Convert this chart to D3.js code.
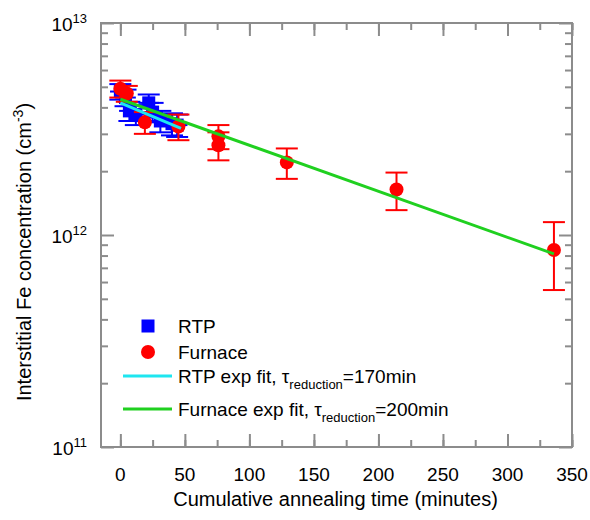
<!DOCTYPE html>
<html>
<head>
<meta charset="utf-8">
<script src="https://cdn.jsdelivr.net/npm/d3@7"></script>
<style>
  body { margin: 0; background: #fff; }
  svg { font-family: Arial, "Liberation Sans", sans-serif; }
</style>
</head>
<body>
<script>
// chart values

// furnace anneal (red circles), time in minutes, Fe in cm^-3
var furnaceTime = [0, 5, 19, 45, 76, 76, 129, 214, 336];
var furnaceFe   = [4.9e12, 4.65e12, 3.4e12, 3.25e12, 2.92e12, 2.65e12, 2.2e12, 1.64e12, 0.85e12];
var furnaceErr  = [0.45e12, 0.4e12, 0.4e12, 0.45e12, 0.38e12, 0.4e12, 0.36e12, 0.33e12, 0.3e12];

// RTP anneal (blue squares)
var rtpTime    = [0, 4, 7, 12, 22, 25, 31, 40, 44];
var rtpFe      = [4.75e12, 4.45e12, 3.85e12, 3.7e12, 4.2e12, 3.8e12, 3.45e12, 3.35e12, 3.3e12];
var rtpErr     = [0.4e12, 0.4e12, 0.4e12, 0.4e12, 0.4e12, 0.4e12, 0.4e12, 0.4e12, 0.4e12];
var rtpTimeErr = [8, 8, 8, 8, 8, 8, 8, 8, 8];

// exponential fits: N(t) = N0 * exp(-t / tau)
var fitNames = ["RTP exp fit, ", "Furnace exp fit, "];
var fitTau   = [170, 200];
var fitN0    = [4.2e12, 4.37e12];
var fitRange = [[0, 47], [0, 336]];

var xTicks = [0, 50, 100, 150, 200, 250, 300, 350];
var xMinor = d3.range(0, 351, 25);
var yDecades = [11, 12, 13];

function draw() {

	var width = 590;
	var height = 520;
	var left = 101, right = 572, top = 23, bottom = 447;
	var gray = "#8c8c8c";

	var xScale = d3.scaleLinear()
				.domain([-15, 350])
				.range([left, right]);

	var yScale = d3.scaleLog()
				.domain([1e11, 1e13])
				.range([bottom, top]);

	var svg = d3.select("body")
				.append("svg")
					.attr("width", width)
					.attr("height", height);

	// minor ticks for the log axis
	var yMinor = [];
	[11, 12].forEach(function(p) {
		for (var k = 2; k <= 9; k++) yMinor.push(k * Math.pow(10, p));
	});
	var yMajor = yDecades.map(p => Math.pow(10, p));

	// tick marks, all pointing inward
	svg.append("g")
		.attr("transform", "translate(0," + bottom + ")")
		.call(d3.axisBottom(xScale).tickValues(xMinor).tickSize(-7).tickFormat(""));
	svg.append("g")
		.attr("transform", "translate(0," + bottom + ")")
		.call(d3.axisBottom(xScale).tickValues(xTicks).tickSize(-13).tickFormat(""));
	svg.append("g")
		.attr("transform", "translate(0," + top + ")")
		.call(d3.axisTop(xScale).tickValues(xMinor).tickSize(-7).tickFormat(""));
	svg.append("g")
		.attr("transform", "translate(0," + top + ")")
		.call(d3.axisTop(xScale).tickValues(xTicks).tickSize(-13).tickFormat(""));
	svg.append("g")
		.attr("transform", "translate(" + left + ",0)")
		.call(d3.axisLeft(yScale).tickValues(yMinor).tickSize(-7).tickFormat(""));
	svg.append("g")
		.attr("transform", "translate(" + left + ",0)")
		.call(d3.axisLeft(yScale).tickValues(yMajor).tickSize(-13).tickFormat(""));
	svg.append("g")
		.attr("transform", "translate(" + right + ",0)")
		.call(d3.axisRight(yScale).tickValues(yMinor).tickSize(-7).tickFormat(""));
	svg.append("g")
		.attr("transform", "translate(" + right + ",0)")
		.call(d3.axisRight(yScale).tickValues(yMajor).tickSize(-13).tickFormat(""));

	svg.selectAll(".domain").remove();
	svg.selectAll(".tick line")
		.attr("stroke", gray)
		.attr("stroke-width", 2);

	// frame
	svg.append("rect")
		.attr("x", left)
		.attr("y", top)
		.attr("width", right - left)
		.attr("height", bottom - top)
		.attr("fill", "none")
		.attr("stroke", gray)
		.attr("stroke-width", 2);

	// x tick labels
	svg.selectAll(".xlab")
		.data(xTicks)
		.enter()
		.append("text")
			.attr("x", d => xScale(d))
			.attr("y", bottom + 34)
			.attr("text-anchor", "middle")
			.style("font-size", "19px")
			.text(d => d);

	// y tick labels 10^n
	var ylab = svg.selectAll(".ylab")
		.data(yDecades)
		.enter()
		.append("text")
			.attr("x", 87)
			.attr("y", d => yScale(Math.pow(10, d)) + 8)
			.attr("text-anchor", "end")
			.style("font-size", "19px");
	ylab.append("tspan").text("10");
	ylab.append("tspan")
		.attr("dy", -8)
		.style("font-size", "13px")
		.text(d => d);

	// axis titles
	svg.append("text")
		.attr("x", (left + right) / 2 - 1)
		.attr("y", 506)
		.attr("text-anchor", "middle")
		.style("font-size", "20px")
		.text("Cumulative annealing time (minutes)");

	var ytitle = svg.append("text")
		.attr("transform", "translate(31," + 252 + ") rotate(-90)")
		.attr("text-anchor", "middle")
		.style("font-size", "20px");
	ytitle.append("tspan").text("Interstitial Fe concentration (cm");
	ytitle.append("tspan").attr("dy", -8).style("font-size", "14px").text("-3");
	ytitle.append("tspan").attr("dy", 8).text(")");

	var capW = 11;

	// RTP error bars and squares
	var rtp = rtpTime.map((t, i) => ({t: t, v: rtpFe[i], e: rtpErr[i], te: rtpTimeErr[i]}));
	var rtpG = svg.append("g").attr("stroke", "#0000ff").attr("stroke-width", 2);
	rtp.forEach(function(d) {
		var cx = xScale(d.t), y0 = yScale(d.v - d.e), y1 = yScale(d.v + d.e), cy = yScale(d.v);
		rtpG.append("line").attr("x1", cx).attr("x2", cx).attr("y1", y0).attr("y2", y1);
		rtpG.append("line").attr("x1", cx - capW).attr("x2", cx + capW).attr("y1", y0).attr("y2", y0);
		rtpG.append("line").attr("x1", cx - capW).attr("x2", cx + capW).attr("y1", y1).attr("y2", y1);
		rtpG.append("line").attr("x1", xScale(d.t - d.te)).attr("x2", xScale(d.t + d.te)).attr("y1", cy).attr("y2", cy);
	});
	svg.selectAll(".rtp")
		.data(rtp)
		.enter()
		.append("rect")
			.attr("x", d => xScale(d.t) - 6.5)
			.attr("y", d => yScale(d.v) - 6.5)
			.attr("width", 13)
			.attr("height", 13)
			.attr("fill", "#0000ff");

	// furnace error bars and circles
	var furnace = furnaceTime.map((t, i) => ({t: t, v: furnaceFe[i], e: furnaceErr[i]}));
	var furG = svg.append("g").attr("stroke", "#ff0000").attr("stroke-width", 2);
	furnace.forEach(function(d) {
		var cx = xScale(d.t), y0 = yScale(d.v - d.e), y1 = yScale(d.v + d.e);
		furG.append("line").attr("x1", cx).attr("x2", cx).attr("y1", y0).attr("y2", y1);
		furG.append("line").attr("x1", cx - capW).attr("x2", cx + capW).attr("y1", y0).attr("y2", y0);
		furG.append("line").attr("x1", cx - capW).attr("x2", cx + capW).attr("y1", y1).attr("y2", y1);
	});
	svg.selectAll(".fur")
		.data(furnace)
		.enter()
		.append("circle")
			.attr("cx", d => xScale(d.t))
			.attr("cy", d => yScale(d.v))
			.attr("r", 7)
			.attr("fill", "#ff0000");

	// fit lines (straight on a log axis, so two end points are enough)
	var fitColors = ["#1ee6f0", "#20d020"];
	fitTau.forEach(function(tau, i) {
		var pts = fitRange[i].map(t => [t, fitN0[i] * Math.exp(-t / tau)]);
		svg.append("path")
			.datum(pts)
			.attr("d", d3.line().x(d => xScale(d[0])).y(d => yScale(d[1])))
			.attr("fill", "none")
			.attr("stroke", fitColors[i])
			.attr("stroke-width", 3);
	});

	// legend
	var lx = 148;
	svg.append("rect")
		.attr("x", lx - 6.5).attr("y", 326 - 6.5)
		.attr("width", 13).attr("height", 13)
		.attr("fill", "#0000ff");
	svg.append("circle")
		.attr("cx", lx).attr("cy", 352).attr("r", 7)
		.attr("fill", "#ff0000");
	svg.append("text").attr("x", 178).attr("y", 333).style("font-size", "19px").text("RTP");
	svg.append("text").attr("x", 178).attr("y", 359).style("font-size", "19px").text("Furnace");

	var legY = [376, 409];
	fitTau.forEach(function(tau, i) {
		svg.append("line")
			.attr("x1", 123).attr("x2", 172)
			.attr("y1", legY[i]).attr("y2", legY[i])
			.attr("stroke", fitColors[i])
			.attr("stroke-width", 3);
		var t = svg.append("text")
			.attr("x", 178)
			.attr("y", legY[i] + 7)
			.style("font-size", "19px");
		t.append("tspan").text(fitNames[i] + "\u03c4");
		t.append("tspan").attr("dy", 6).style("font-size", "13px").text("reduction");
		t.append("tspan").attr("dy", -6).text("=" + tau + "min");
	});
}

draw();
</script>
</body>
</html>
